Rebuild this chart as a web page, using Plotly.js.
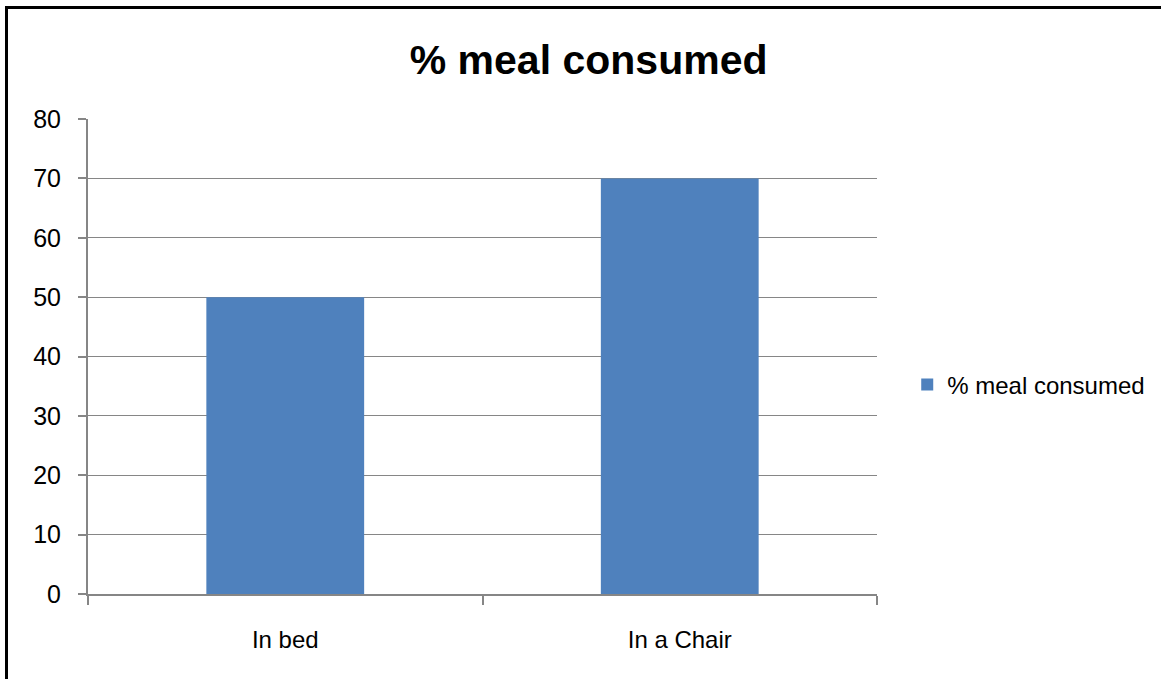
<!DOCTYPE html>
<html>
<head>
<meta charset="utf-8">
<script src="https://cdn.plot.ly/plotly-3.0.1.min.js"></script>
<style>
  html, body { margin: 0; padding: 0; background: #fff; }
  #frame { position: absolute; left: 5px; top: 6px; width: 1156px; height: 673px;
           border-left: 3px solid #000; border-top: 3px solid #000; box-sizing: border-box; pointer-events: none; z-index: 5; }
  #chart { position: absolute; left: 0; top: 0; width: 1161px; height: 679px; }
</style>
</head>
<body>
<div id="chart"></div>
<div id="frame"></div>
<script>
const categories = ["In bed", "In a Chair"];
const mealConsumed = [50, 70];
const seriesName = "% meal consumed";
const yTicks = [0, 10, 20, 30, 40, 50, 60, 70, 80];

const trace = {
  type: "bar",
  x: categories,
  y: mealConsumed,
  name: seriesName,
  marker: { color: "#4F81BD" },
  showlegend: true
};

const layout = {
  width: 1161,
  height: 679,
  margin: { l: 88, r: 283, t: 119, b: 85 },
  paper_bgcolor: "#ffffff",
  plot_bgcolor: "#ffffff",
  font: { family: "Liberation Sans, Arial, sans-serif", color: "#000", size: 24 },
  title: {
    text: "<b>% meal consumed</b>",
    font: { size: 41, family: "Liberation Sans, Arial, sans-serif", color: "#000" },
    x: 0.507, xref: "container", xanchor: "center",
    y: 0.912, yref: "container", yanchor: "middle"
  },
  bargap: 0.6,
  xaxis: {
    type: "category",
    showline: true, linecolor: "#868686", linewidth: 2,
    ticks: "outside", tickson: "boundaries", ticklen: 9, tickcolor: "#868686", tickwidth: 2,
    showgrid: false,
    ticklabelstandoff: 23,
    tickfont: { size: 24 }
  },
  yaxis: {
    range: [0, 80],
    tickvals: yTicks,
    showline: true, linecolor: "#868686", linewidth: 2,
    ticks: "outside", ticklen: 8, tickcolor: "#868686", tickwidth: 2,
    showgrid: true, gridcolor: "#868686", gridwidth: 1,
    zeroline: false,
    ticklabelstandoff: 12,
    tickfont: { size: 25 }
  },
  showlegend: true,
  legend: {
    x: 1.037, xanchor: "left",
    y: 0.44, yanchor: "middle",
    font: { size: 24 },
    itemwidth: 30,
    bgcolor: "rgba(0,0,0,0)"
  }
};

Plotly.newPlot("chart", [trace], layout, { staticPlot: true, displayModeBar: false });
</script>
</body>
</html>
